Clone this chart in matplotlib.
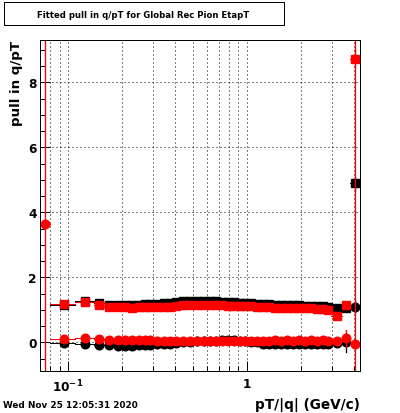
import numpy as np
import matplotlib
matplotlib.use("Agg")
import matplotlib.pyplot as plt
from matplotlib.patches import Rectangle
from matplotlib.ticker import FixedLocator, NullFormatter

plt.rcParams["mathtext.default"] = "bf"

# ---- data ----
bin_edges = [0.07, 0.08, 0.11, 0.14, 0.16, 0.18, 0.20, 0.22, 0.24, 0.26, 0.28, 0.30,
             0.33, 0.36, 0.39, 0.42, 0.46, 0.50, 0.55, 0.60, 0.65, 0.70, 0.76, 0.82,
             0.88, 0.95, 1.02, 1.10, 1.19, 1.28, 1.38, 1.49, 1.61, 1.74, 1.88, 2.03,
             2.19, 2.37, 2.56, 2.76, 2.96, 3.40, 3.80, 4.30]

nan = float("nan")
red_sigma = [nan, 1.18, 1.23, 1.16, 1.10, 1.08, 1.08, 1.07, 1.08, 1.08, 1.08, 1.08,
             1.09, 1.10, 1.12, 1.14, 1.15, 1.16, 1.16, 1.15, 1.15, 1.14, 1.13, 1.13,
             1.12, 1.11, 1.11, 1.10, 1.09, 1.08, 1.07, 1.07, 1.06, 1.06, 1.05, 1.06,
             1.05, 1.04, 1.02, 1.00, 0.82, 1.15, 8.73]
black_sigma = [nan, 1.15, 1.26, 1.20, 1.16, 1.15, 1.15, 1.15, 1.16, 1.17, 1.18, 1.19,
               1.20, 1.22, 1.24, 1.26, 1.27, 1.28, 1.28, 1.27, 1.26, 1.25, 1.24, 1.23,
               1.22, 1.21, 1.20, 1.19, 1.18, 1.17, 1.16, 1.15, 1.15, 1.14, 1.14, 1.13,
               1.13, 1.12, 1.12, 1.10, 1.05, 1.05, 4.89]
red_mean = [3.64, 0.10, 0.13, 0.10, 0.08, 0.07, 0.06, 0.06, 0.06, 0.06, 0.06, 0.05,
            0.05, 0.05, 0.05, 0.05, 0.05, 0.05, 0.04, 0.05, 0.05, 0.05, 0.04, 0.05,
            0.05, 0.04, 0.05, 0.05, 0.04, 0.05, 0.06, 0.04, 0.07, 0.03, 0.06, 0.04,
            0.07, 0.03, 0.06, 0.03, 0.03, 0.12, -0.05]
black_mean = [nan, -0.03, -0.06, -0.08, -0.09, -0.10, -0.10, -0.10, -0.09, -0.08, -0.07, -0.06,
              -0.05, -0.04, -0.02, 0.00, 0.02, 0.03, 0.03, 0.04, 0.05, 0.08, 0.08, 0.08,
              0.04, 0.03, 0.02, 0.00, -0.04, -0.05, -0.05, -0.06, -0.05, -0.06, -0.04, -0.05,
              -0.06, -0.05, -0.04, -0.04, -0.02, 0.00, 1.10]
red_mean_err = [12.0] + [0.03] * 40 + [0.25, 12.0]
black_mean_err = [0.0] + [0.03] * 40 + [0.30, 0.20]
red_sigma_err = [0.0] + [0.02] * 39 + [0.03, 0.12, 0.3]
black_sigma_err = [0.0] + [0.02] * 39 + [0.03, 0.10, 0.2]

title = "Fitted pull in q/pT for Global Rec Pion EtapT"
date_text = "Wed Nov 25 12:05:31 2020"
xlabel = "pT/|q| (GeV/c)"
ylabel = "pull in q/pT"

# ---- derived ----
edges = np.array(bin_edges)
xc = 0.5 * (edges[:-1] + edges[1:])

W, H = 400, 414
fig = plt.figure(figsize=(W / 100, H / 100), dpi=100)
ax = fig.add_axes([40 / W, 1 - 372 / H, 320 / W, 331 / H])
ax.set_xscale("log")
ax.set_xlim(0.07, 4.3)
ax.set_ylim(-0.88, 9.3)

px = 0.72
ms = 6.2

def draw(y, yerr, color, marker):
    y = np.array(y, dtype=float)
    e = np.array(yerr, dtype=float)
    for i in range(len(y)):
        if np.isnan(y[i]):
            continue
        ax.plot([edges[i], edges[i + 1]], [y[i], y[i]], color=color, lw=px, zorder=3)
        if e[i] > 0:
            ax.plot([xc[i], xc[i]], [y[i] - e[i], y[i] + e[i]], color=color, lw=px * 1.3, zorder=3)
    ok = ~np.isnan(y)
    ax.plot(xc[ok], y[ok], ls="none", marker=marker, ms=ms, color=color,
            mec=color, mfc=color, zorder=3)

draw(black_sigma, black_sigma_err, "black", "s")
draw(black_mean, black_mean_err, "black", "o")
draw(red_sigma, red_sigma_err, "red", "s")
draw(red_mean, red_mean_err, "red", "o")

# ticks & grid
ax.xaxis.set_major_locator(FixedLocator([0.1, 1]))
ax.xaxis.set_minor_locator(FixedLocator([0.08, 0.09, 0.2, 0.3, 0.4, 0.5, 0.6, 0.7, 0.8, 0.9, 2, 3, 4]))
ax.xaxis.set_minor_formatter(NullFormatter())
ax.set_xticklabels(["$10^{-1}$", "1"])
ax.yaxis.set_major_locator(FixedLocator([0, 2, 4, 6, 8]))
ax.yaxis.set_minor_locator(FixedLocator(np.arange(-0.5, 9.3, 0.5)))
ax.grid(True, which="both", axis="x", color="black", lw=px, ls=(0, (1, 3)), zorder=1)
ax.grid(True, which="major", axis="y", color="black", lw=px, ls=(0, (1, 3)), zorder=1)

ax.tick_params(which="both", direction="in", top=False, right=False, width=px, color="black")
ax.tick_params(which="major", length=7.5)
ax.tick_params(which="minor", length=3.6)
ax.tick_params(axis="x", which="major", labelsize=8.7, pad=4.5)
ax.tick_params(axis="y", which="major", labelsize=8.7, pad=2.5)
for lab in ax.get_xticklabels() + ax.get_yticklabels():
    lab.set_fontweight("bold")
for s in ax.spines.values():
    s.set_linewidth(px)
    s.set_zorder(5)

# title box
fig.patches.append(Rectangle((4 / W, 1 - 26 / H), 280 / W, 23 / H, transform=fig.transFigure,
                             facecolor="white", edgecolor="black", lw=px))
fig.text(143 / W, 1 - 15.5 / H, title, ha="center", va="center", fontsize=6.1, weight="bold")

fig.text(16.5 / W, 1 - 41 / H, ylabel, rotation=90, ha="center", va="top", fontsize=9.6, weight="bold")
fig.text(360 / W, 1 - 405.5 / H, xlabel, ha="right", va="center", fontsize=9.8, weight="bold")
fig.text(3 / W, 1 - 405.7 / H, date_text, ha="left", va="center", fontsize=6.4, weight="bold")

fig.savefig("out.png", dpi=100)
